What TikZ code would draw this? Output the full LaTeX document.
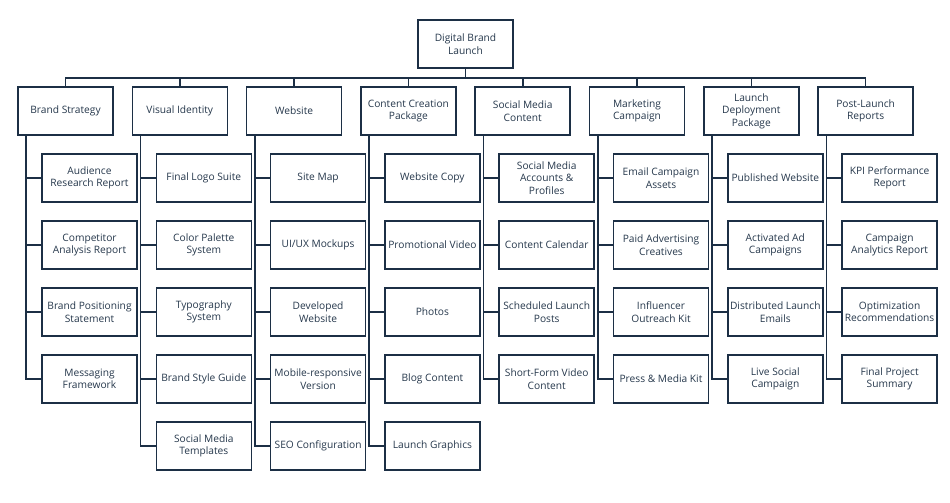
\documentclass[tikz,border=0pt]{standalone}
\usepackage{fontspec}
\setmainfont{Open Sans}
\definecolor{navy}{HTML}{1C2F45}
\definecolor{txt}{HTML}{26384C}
\newcommand{\kid}[3]{%
  \node[box] (c#1#2) at ({89.5+114.3*(#1-1)},{178+67*(#2-1)}) {#3};
  \draw[conn] ([xshift=9pt]p#1.south west) |- (c#1#2.west);}
\begin{document}
\begin{tikzpicture}[x=1pt,y=-1pt,
 box/.style={draw=navy,line width=1.6pt,fill=white,minimum width=95pt,minimum height=48pt,inner sep=0.5pt,align=center,font=\fontsize{10.2}{12.6}\selectfont,text=txt},
 conn/.style={draw=navy,line width=1.6pt}]
\useasboundingbox (0,0) rectangle (950,503);
\node[box] (root) at (465.5,44) {Digital Brand\\Launch};
\foreach \i/\t in {1/{Brand Strategy},2/{Visual Identity},3/{Website},4/{Content Creation\\Package},5/{Social Media\\Content},6/{Marketing\\Campaign},7/{Launch\\Deployment\\Package},8/{Post-Launch\\Reports}}
  \node[box] (p\i) at ({65.5+114.3*(\i-1)},111) {\t};
\coordinate (bus) at (465.5,78);
\draw[conn] (root.south) -- (root.south |- bus);
\foreach \i in {2,...,7} \draw[conn] (p\i.north) -- (p\i.north |- bus);
\draw[conn] (p1.north) -- (p1.north |- bus) -- (p8.north |- bus) -- (p8.north);
% Brand Strategy
\kid{1}{1}{Audience\\Research Report}
\kid{1}{2}{Competitor\\Analysis Report}
\kid{1}{3}{Brand Positioning\\Statement}
\kid{1}{4}{Messaging\\Framework}
% Visual Identity
\kid{2}{1}{Final Logo Suite}
\kid{2}{2}{Color Palette\\System}
\kid{2}{3}{Typography\\System}
\kid{2}{4}{Brand Style Guide}
\kid{2}{5}{Social Media\\Templates}
% Website
\kid{3}{1}{Site Map}
\kid{3}{2}{UI/UX Mockups}
\kid{3}{3}{Developed\\Website}
\kid{3}{4}{Mobile-responsive\\Version}
\kid{3}{5}{SEO Configuration}
% Content Creation
\kid{4}{1}{Website Copy}
\kid{4}{2}{Promotional Video}
\kid{4}{3}{Photos}
\kid{4}{4}{Blog Content}
\kid{4}{5}{Launch Graphics}
% Social Media Content
\kid{5}{1}{Social Media\\Accounts \&\\Profiles}
\kid{5}{2}{Content Calendar}
\kid{5}{3}{Scheduled Launch\\Posts}
\kid{5}{4}{Short-Form Video\\Content}
% Marketing Campaign
\kid{6}{1}{Email Campaign\\Assets}
\kid{6}{2}{Paid Advertising\\Creatives}
\kid{6}{3}{Influencer\\Outreach Kit}
\kid{6}{4}{Press \& Media Kit}
% Launch Deployment
\kid{7}{1}{Published Website}
\kid{7}{2}{Activated Ad\\Campaigns}
\kid{7}{3}{Distributed Launch\\Emails}
\kid{7}{4}{Live Social\\Campaign}
% Post-Launch
\kid{8}{1}{KPI Performance\\Report}
\kid{8}{2}{Campaign\\Analytics Report}
\kid{8}{3}{Optimization\\Recommendations}
\kid{8}{4}{Final Project\\Summary}
\end{tikzpicture}
\end{document}
